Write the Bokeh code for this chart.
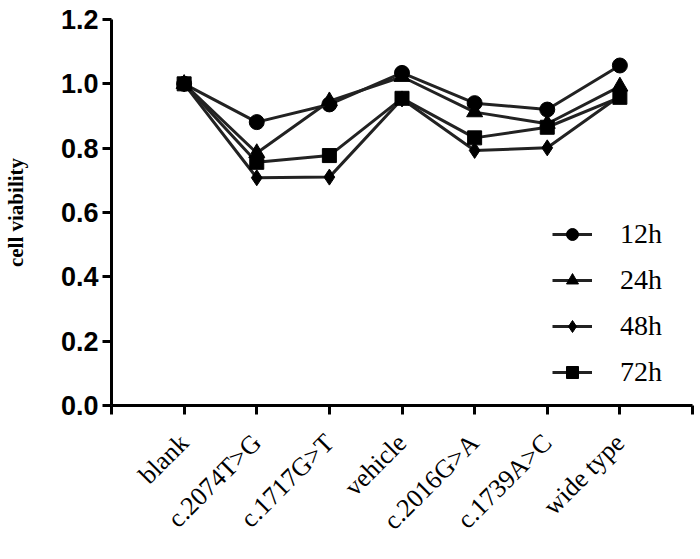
import math
from bokeh.plotting import figure
from bokeh.models import (Range1d, FixedTicker, Legend, LegendItem,
                          PrintfTickFormatter)
from bokeh.embed import file_html
from bokeh.resources import INLINE

categories = ["blank", "c.2074T>G", "c.1717G>T", "vehicle", "c.2016G>A", "c.1739A>C", "wide type"]
series_names = ["12h", "24h", "48h", "72h"]
v12 = [1.00, 0.881, 0.936, 1.034, 0.940, 0.920, 1.057]
v24 = [1.00, 0.785, 0.946, 1.022, 0.912, 0.876, 0.992]
v48 = [1.00, 0.708, 0.710, 0.953, 0.793, 0.801, 0.962]
v72 = [1.00, 0.756, 0.777, 0.955, 0.832, 0.865, 0.958]
y_ticks = [0.0, 0.2, 0.4, 0.6, 0.8, 1.0, 1.2]

series = [v12, v24, v48, v72]
markers = ["circle", "triangle", "diamond", "square"]
sizes = [15, 16, 16, 14]

n = len(categories)
xs = list(range(n))

p = figure(width=696, height=551, output_backend="svg", toolbar_location=None,
           x_range=Range1d(-1, n), y_range=Range1d(0, 1.2),
           min_border_left=111, min_border_right=4, min_border_top=19, min_border_bottom=146)
p.outline_line_color = None
p.grid.visible = False
p.background_fill_color = "white"

# x axis: one tick per category plus an empty tick at each end
overrides = {-1: "", n: ""}
for i, c in enumerate(categories):
    overrides[i] = c
xaxis = p.xaxis[0]
xaxis.ticker = FixedTicker(ticks=list(range(-1, n + 1)))
xaxis.major_label_overrides = overrides
xaxis.major_label_orientation = math.pi / 4
xaxis.major_label_text_font = "Liberation Serif"
xaxis.major_label_text_font_size = "26px"
xaxis.major_label_text_color = "black"
xaxis.major_label_standoff = 24
xaxis.axis_line_width = 3
xaxis.axis_line_color = "black"
xaxis.major_tick_line_width = 3
xaxis.major_tick_in = 0
xaxis.major_tick_out = 9
xaxis.minor_tick_line_color = None

ya = p.yaxis[0]
ya.ticker = FixedTicker(ticks=y_ticks)
ya.formatter = PrintfTickFormatter(format="%.1f")
ya.major_label_text_font = "Liberation Sans"
ya.major_label_text_font_style = "bold"
ya.major_label_text_font_size = "27px"
ya.major_label_text_color = "black"
ya.major_label_standoff = 4
ya.axis_line_width = 3
ya.axis_line_color = "black"
ya.major_tick_line_width = 3
ya.major_tick_in = 0
ya.major_tick_out = 9
ya.minor_tick_line_color = None
ya.axis_label = "cell viability"
ya.axis_label_text_font = "Liberation Serif"
ya.axis_label_text_font_style = "bold"
ya.axis_label_text_font_size = "21px"
ya.axis_label_text_color = "black"
ya.axis_label_standoff = 30

items = []
for name, vals, m, s in zip(series_names, series, markers, sizes):
    lr = p.line(xs, vals, line_color="#222222", line_width=3)
    sr = p.scatter(xs, vals, marker=m, size=s, fill_color="black", line_color="black")
    items.append(LegendItem(label=name, renderers=[lr, sr]))

legend = Legend(items=items, location=(441, 17))
legend.background_fill_alpha = 0
legend.border_line_color = None
legend.padding = 0
legend.margin = 0
legend.glyph_width = 40
legend.glyph_height = 30
legend.label_height = 30
legend.spacing = 14
legend.label_standoff = 28
legend.label_text_font = "Liberation Serif"
legend.label_text_font_size = "28px"
legend.label_text_color = "black"
p.add_layout(legend, "center")

open("out.html", "w").write(file_html(p, INLINE))
